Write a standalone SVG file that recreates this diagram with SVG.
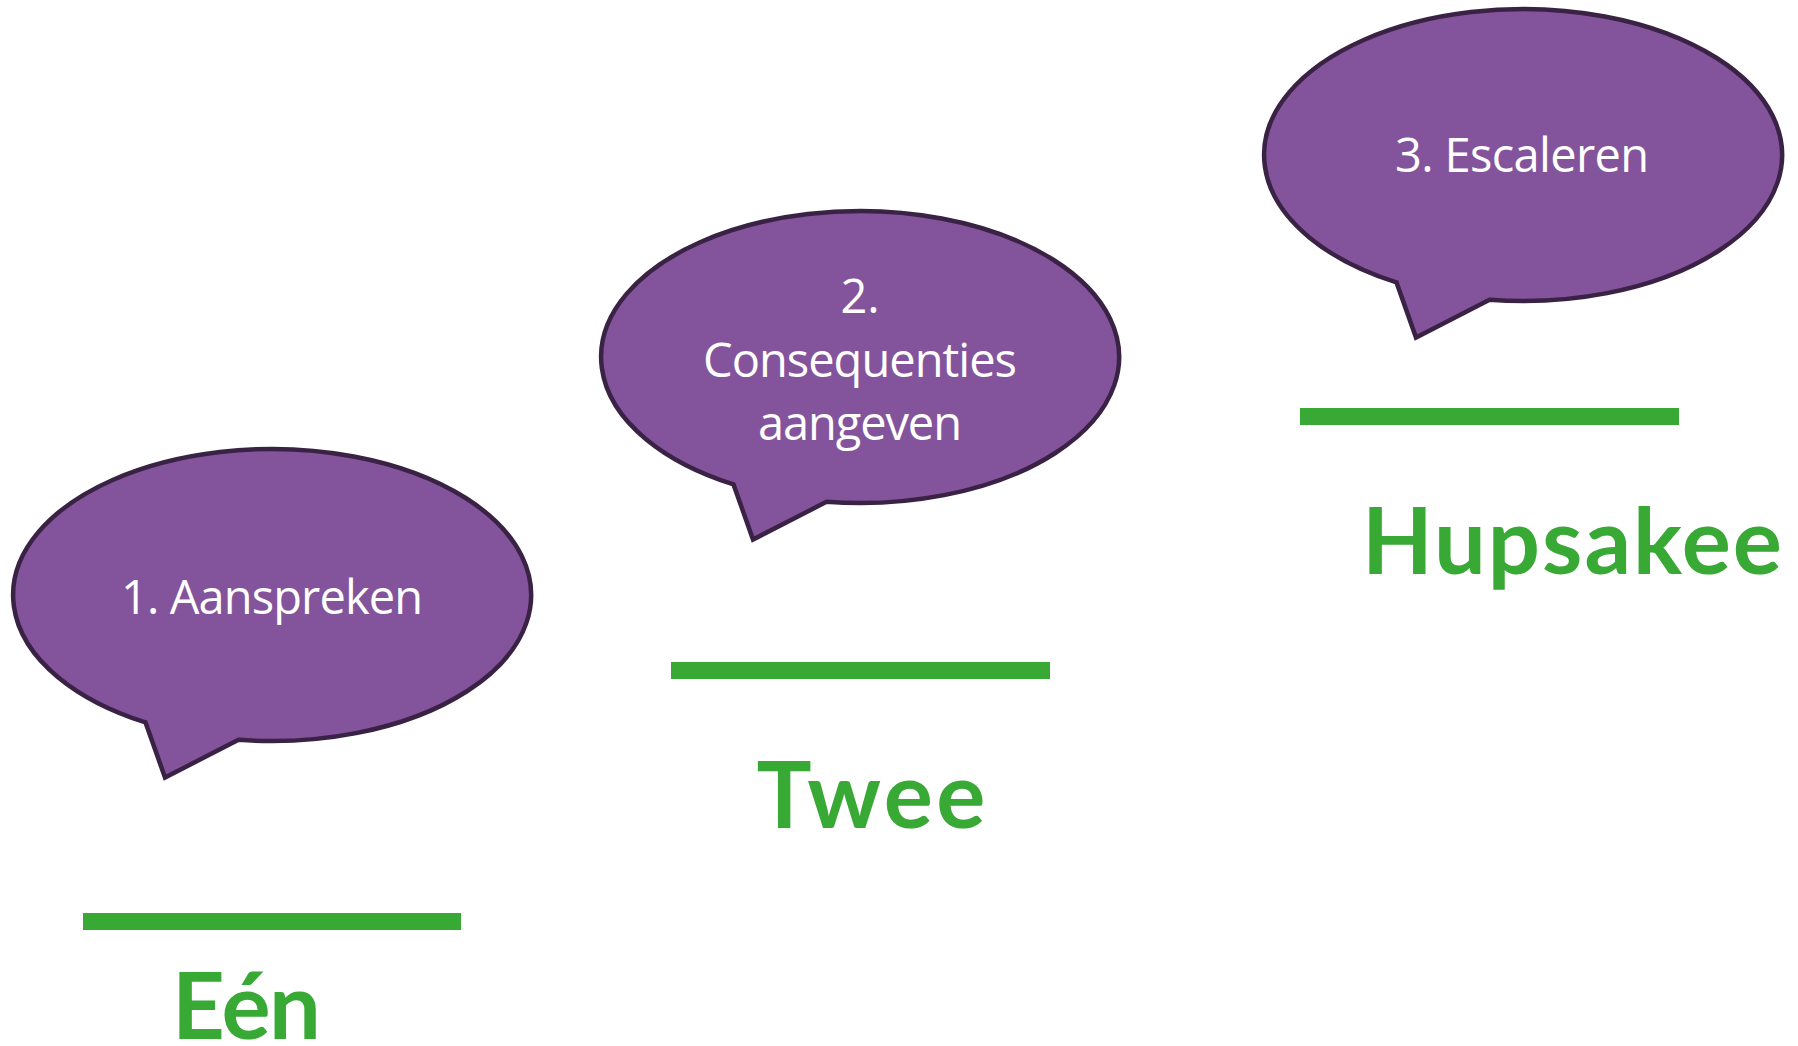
<svg xmlns="http://www.w3.org/2000/svg" width="1798" height="1046" viewBox="0 0 1798 1046">
<style>
.bubble{fill:#83549C;stroke:#3A2245;stroke-width:4.5;stroke-linejoin:miter}
.btxt{fill:#FFFFFF;font-family:"Open Sans","Noto Sans","Liberation Sans",sans-serif;font-size:47px;text-anchor:middle}
.bar{fill:#38A935}
.lbl{fill:#38A935;font-family:Lato,"Open Sans","Liberation Sans",sans-serif;font-weight:bold;font-size:92px;text-anchor:middle}
</style>
<rect width="1798" height="1046" fill="#FFFFFF"/>
<g id="connectors"></g>
<g id="bubble1">
<path class="bubble" d="M238.5 739.8 A259 146 0 1 0 145.5 722.4 L165 777.5 Z"/>
<text class="btxt" x="272" y="614" textLength="302">1. Aanspreken</text>
</g>
<g id="bubble2">
<path class="bubble" d="M826.5 501.8 A259 146 0 1 0 733.5 484.4 L753 539.5 Z"/>
<text class="btxt" x="860" y="313">2.</text>
<text class="btxt" x="860" y="377" textLength="314">Consequenties</text>
<text class="btxt" x="860" y="440" textLength="204">aangeven</text>
</g>
<g id="bubble3">
<path class="bubble" d="M1489.5 299.8 A259 146 0 1 0 1396.5 282.4 L1416 337.5 Z"/>
<text class="btxt" x="1522" y="172" textLength="254">3. Escaleren</text>
</g>
<g id="step1">
<rect class="bar" x="83" y="913" width="378" height="17"/>
<text class="lbl" x="246.5" y="1039" textLength="149">Eén</text>
</g>
<g id="step2">
<rect class="bar" x="671" y="662" width="379" height="17"/>
<text class="lbl" x="871" y="828" textLength="229">Twee</text>
</g>
<g id="step3">
<rect class="bar" x="1300" y="408" width="379" height="17"/>
<text class="lbl" x="1572" y="574" textLength="420">Hupsakee</text>
</g>
</svg>
